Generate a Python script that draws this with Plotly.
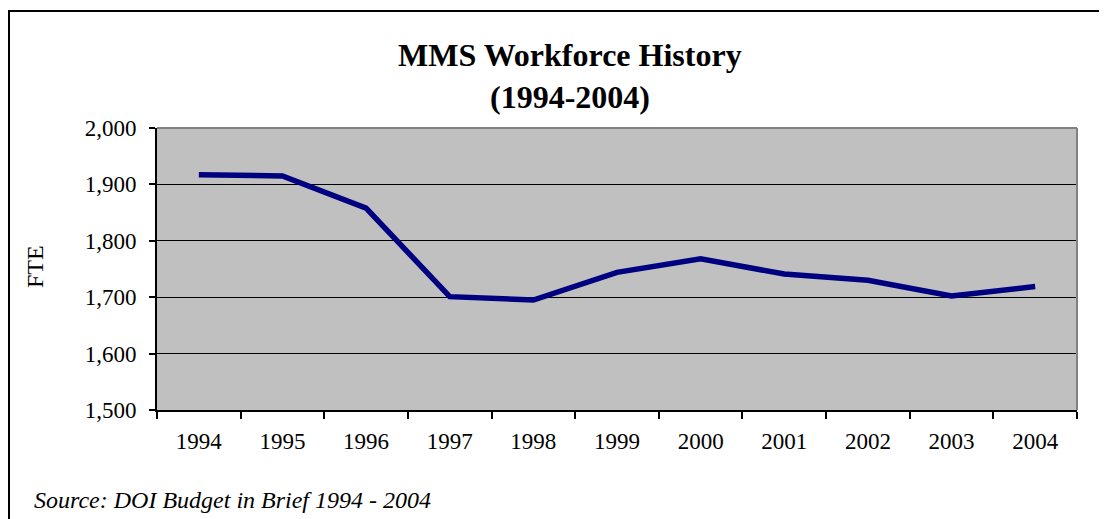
import plotly.graph_objects as go

years = ["1994", "1995", "1996", "1997", "1998", "1999", "2000", "2001", "2002", "2003", "2004"]
fte = [1917, 1915, 1858, 1701, 1695, 1744, 1768, 1741, 1730, 1702, 1719]
y_ticks = [1500, 1600, 1700, 1800, 1900, 2000]
y_labels = ["1,500", "1,600", "1,700", "1,800", "1,900", "2,000"]

FONT = "Liberation Serif, Times New Roman, serif"

fig = go.Figure()
fig.add_trace(go.Scatter(
    x=years, y=fte, mode="lines",
    line=dict(color="#000080", width=5.5),
    hoverinfo="x+y",
))

W, H = 1107, 519
OFF = 8  # page body margin
L, T = 157 - OFF, 128 - OFF
R = W - (1077 - OFF)
B = H - (410 - OFF)
pw = W - L - R
ph = H - T - B

def px2x(p):
    return (p - OFF - L) / pw

def py2y(p):
    return (H - B - (p - OFF)) / ph

fig.update_layout(
    width=W, height=H,
    margin=dict(l=L, r=R, t=T, b=B),
    paper_bgcolor="white",
    plot_bgcolor="#C0C0C0",
    showlegend=False,
    font=dict(family=FONT, color="black", size=23),
    xaxis=dict(
        type="category",
        tickson="boundaries",
        ticks="outside", ticklen=7, tickwidth=2, tickcolor="black",
        showline=True, linecolor="black", linewidth=2,
        showgrid=False,
        tickfont=dict(family=FONT, size=23),
        ticklabelstandoff=9,
        range=[-0.5, 10.5],
    ),
    yaxis=dict(
        range=[1500, 2000],
        tickvals=y_ticks, ticktext=y_labels,
        ticks="outside", ticklen=6, tickwidth=2, tickcolor="black",
        showline=True, linecolor="black", linewidth=2,
        showgrid=True, gridcolor="black", gridwidth=1.2,
        zeroline=False,
        tickfont=dict(family=FONT, size=23),
        ticklabelstandoff=8,
    ),
)

# title lines
fig.add_annotation(
    text="<b>MMS Workforce History</b>", xref="paper", yref="paper",
    x=px2x(570), y=py2y(55), xanchor="center", yanchor="middle",
    showarrow=False, font=dict(family=FONT, size=32, color="black"),
)
fig.add_annotation(
    text="<b>(1994-2004)</b>", xref="paper", yref="paper",
    x=px2x(570), y=py2y(97), xanchor="center", yanchor="middle",
    showarrow=False, font=dict(family=FONT, size=32, color="black"),
)

# y-axis title
fig.add_annotation(
    text="FTE", xref="paper", yref="paper",
    x=px2x(35), y=py2y(266), xanchor="center", yanchor="middle",
    textangle=-90, showarrow=False, font=dict(family=FONT, size=24, color="black"),
)

# plot area top/right grey borders
fig.add_shape(type="line", xref="paper", yref="paper", x0=0, x1=1, y0=1, y1=1,
              line=dict(color="#808080", width=2))
fig.add_shape(type="line", xref="paper", yref="paper", x0=1, x1=1, y0=0, y1=1,
              line=dict(color="#808080", width=2))

# outer chart border
fig.add_shape(type="rect", xref="paper", yref="paper",
              x0=px2x(9), x1=px2x(1104), y0=py2y(560), y1=py2y(11),
              line=dict(color="black", width=2), fillcolor="rgba(0,0,0,0)", layer="below")

fig.add_annotation(
    text="<i>Source: DOI Budget in Brief 1994 - 2004</i>",
    xref="paper", yref="paper", x=px2x(32), y=py2y(500),
    xanchor="left", yanchor="middle", showarrow=False,
    font=dict(family=FONT, size=24, color="black"),
)

fig.write_html("out.html")
